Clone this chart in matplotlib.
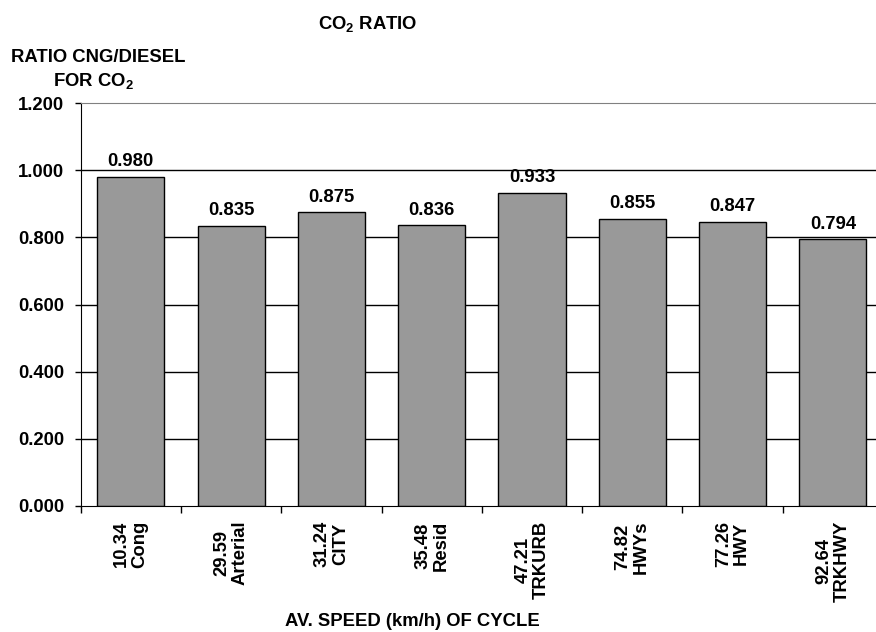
import matplotlib
matplotlib.use("Agg")
import matplotlib.pyplot as plt
import numpy as np

plt.rcParams['font.family'] = ['Liberation Sans', 'DejaVu Sans']
plt.rcParams['font.weight'] = 'bold'
plt.rcParams['mathtext.fontset'] = 'custom'
plt.rcParams['mathtext.rm'] = 'Liberation Sans:bold'
plt.rcParams['mathtext.it'] = 'Liberation Sans:bold'
plt.rcParams['mathtext.bf'] = 'Liberation Sans:bold'

speeds = ["10.34", "29.59", "31.24", "35.48", "47.21", "74.82", "77.26", "92.64"]
cycles = ["Cong", "Arterial", "CITY", "Resid", "TRKURB", "HWYs", "HWY", "TRKHWY"]
ratios = [0.980, 0.835, 0.875, 0.836, 0.933, 0.855, 0.847, 0.794]
yticks = [0.0, 0.2, 0.4, 0.6, 0.8, 1.0, 1.2]

FS = 13.3
W, H = 876, 632
fig = plt.figure(figsize=(W / 100, H / 100), dpi=100)
left, right, top, bottom = 80.7, 883.0, 103.0, 506.0
ax = fig.add_axes([left / W, 1 - bottom / H, (right - left) / W, (bottom - top) / H])

x = np.arange(len(ratios))
ax.set_axisbelow(True)
for v in yticks[1:-1]:
    ax.axhline(v, color='black', lw=1.0, zorder=0)
ax.bar(x, ratios, width=0.67, color='#999999', edgecolor='black', linewidth=1.0, zorder=2)

for xi, v in zip(x, ratios):
    ax.annotate(f"{v:.3f}", (xi, v), xytext=(0, 7.5), textcoords='offset points',
                ha='center', va='baseline', fontsize=FS, fontweight='bold')

ax.set_xlim(-0.5, len(ratios) - 0.5)
ax.set_ylim(0, 1.2)
ax.set_yticks(yticks)
ax.set_yticklabels([f"{v:.3f}" for v in yticks], fontsize=FS, fontweight='bold')
ax.tick_params(axis='y', direction='out', length=4, width=1, pad=8)

ax.set_xticks(x)
ax.set_xticklabels([f"{s}\n{c}" for s, c in zip(speeds, cycles)], rotation=90,
                   fontsize=FS, fontweight='bold', ha='center', va='top',
                   multialignment='center', linespacing=1.1)
ax.tick_params(axis='x', which='major', length=0, pad=10.5)
ax.set_xticks(np.arange(-0.5, len(ratios)), minor=True)
ax.tick_params(axis='x', which='minor', direction='out', length=5, width=1)

ax.spines['top'].set_color('#808080')
ax.spines['right'].set_visible(False)
ax.spines['left'].set_color('black')
ax.spines['bottom'].set_color('black')

fig.text(368 / W, 1 - 24 / H, "CO$_2$ RATIO", ha='center', va='center',
         fontsize=FS, fontweight='bold')
fig.text(98 / W, 1 - 57 / H, "RATIO CNG/DIESEL", ha='center', va='center',
         fontsize=FS, fontweight='bold')
fig.text(93 / W, 1 - 81 / H, "FOR CO$_2$", ha='center', va='center',
         fontsize=FS, fontweight='bold')
fig.text(412 / W, 1 - 622 / H, "AV. SPEED (km/h) OF CYCLE", ha='center', va='center',
         fontsize=FS, fontweight='bold')

fig.savefig("out.png", dpi=100)
